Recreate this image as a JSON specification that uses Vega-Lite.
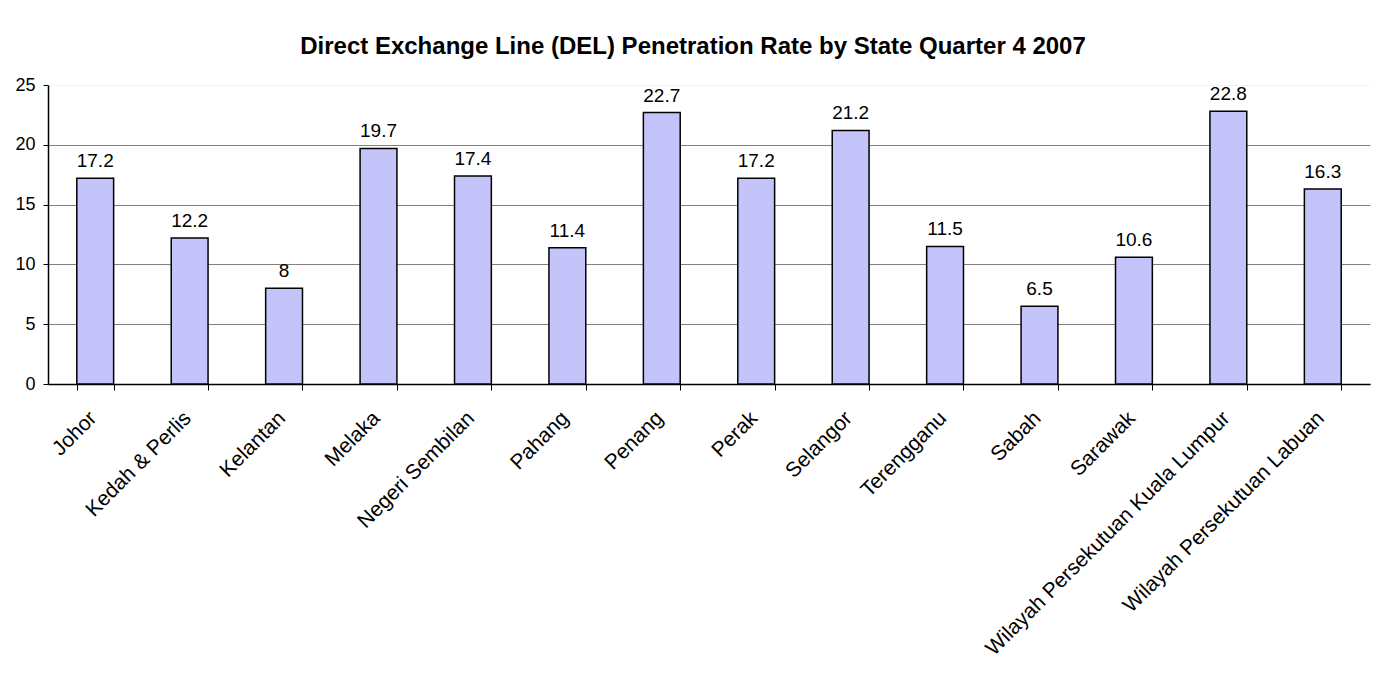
{
  "$schema": "https://vega.github.io/schema/vega-lite/v6.json",
  "autosize": "none",
  "width": 1322,
  "height": 299,
  "padding": {"left": 48, "top": 85, "right": 4, "bottom": 289},
  "background": "white",
  "title": {
    "text": "Direct Exchange Line (DEL) Penetration Rate by State Quarter 4 2007",
    "font": "Liberation Sans",
    "fontSize": 24,
    "fontWeight": "bold",
    "color": "black",
    "anchor": "middle",
    "offset": 17,
    "dx": -16
  },
  "data": {
    "values": [
      {"state": "Johor", "rate": 17.2},
      {"state": "Kedah & Perlis", "rate": 12.2},
      {"state": "Kelantan", "rate": 8},
      {"state": "Melaka", "rate": 19.7},
      {"state": "Negeri Sembilan", "rate": 17.4},
      {"state": "Pahang", "rate": 11.4},
      {"state": "Penang", "rate": 22.7},
      {"state": "Perak", "rate": 17.2},
      {"state": "Selangor", "rate": 21.2},
      {"state": "Terengganu", "rate": 11.5},
      {"state": "Sabah", "rate": 6.5},
      {"state": "Sarawak", "rate": 10.6},
      {"state": "Wilayah Persekutuan Kuala Lumpur", "rate": 22.8},
      {"state": "Wilayah Persekutuan Labuan", "rate": 16.3}
    ]
  },
  "encoding": {
    "x": {
      "field": "state",
      "type": "nominal",
      "sort": null,
      "scale": {"paddingInner": 0.61, "paddingOuter": 0.305},
      "axis": {
        "title": null,
        "labelAngle": -45,
        "labelFont": "Liberation Sans",
        "labelFontSize": 21,
        "labelColor": "black",
        "labelPadding": 17,
        "labelOffset": -10,
        "labelLimit": 500,
        "tickBand": "extent",
        "tickColor": "black",
        "tickSize": 6,
        "domainColor": "black",
        "domainWidth": 1.5,
        "grid": false
      }
    },
    "y": {
      "field": "rate",
      "type": "quantitative",
      "scale": {"domain": [0, 25], "nice": false},
      "axis": {
        "title": null,
        "values": [0, 5, 10, 15, 20, 25],
        "labelFont": "Liberation Sans",
        "labelFontSize": 18,
        "labelColor": "black",
        "labelPadding": 8,
        "tickColor": "black",
        "tickSize": 5,
        "domainColor": "black",
        "domainWidth": 1.5,
        "grid": true,
        "gridColor": {"condition": {"test": "datum.value == 25", "value": "#f2f2f2"}, "value": "#808080"},
        "gridWidth": 1
      }
    }
  },
  "layer": [
    {
      "mark": {"type": "bar", "fill": "#c4c4fb", "stroke": "black", "strokeWidth": 1.5}
    },
    {
      "mark": {"type": "text", "baseline": "alphabetic", "dy": -11, "font": "Liberation Sans", "fontSize": 19, "color": "black"},
      "encoding": {"text": {"field": "rate", "type": "quantitative"}}
    }
  ],
  "config": {
    "view": {"stroke": null}
  }
}
